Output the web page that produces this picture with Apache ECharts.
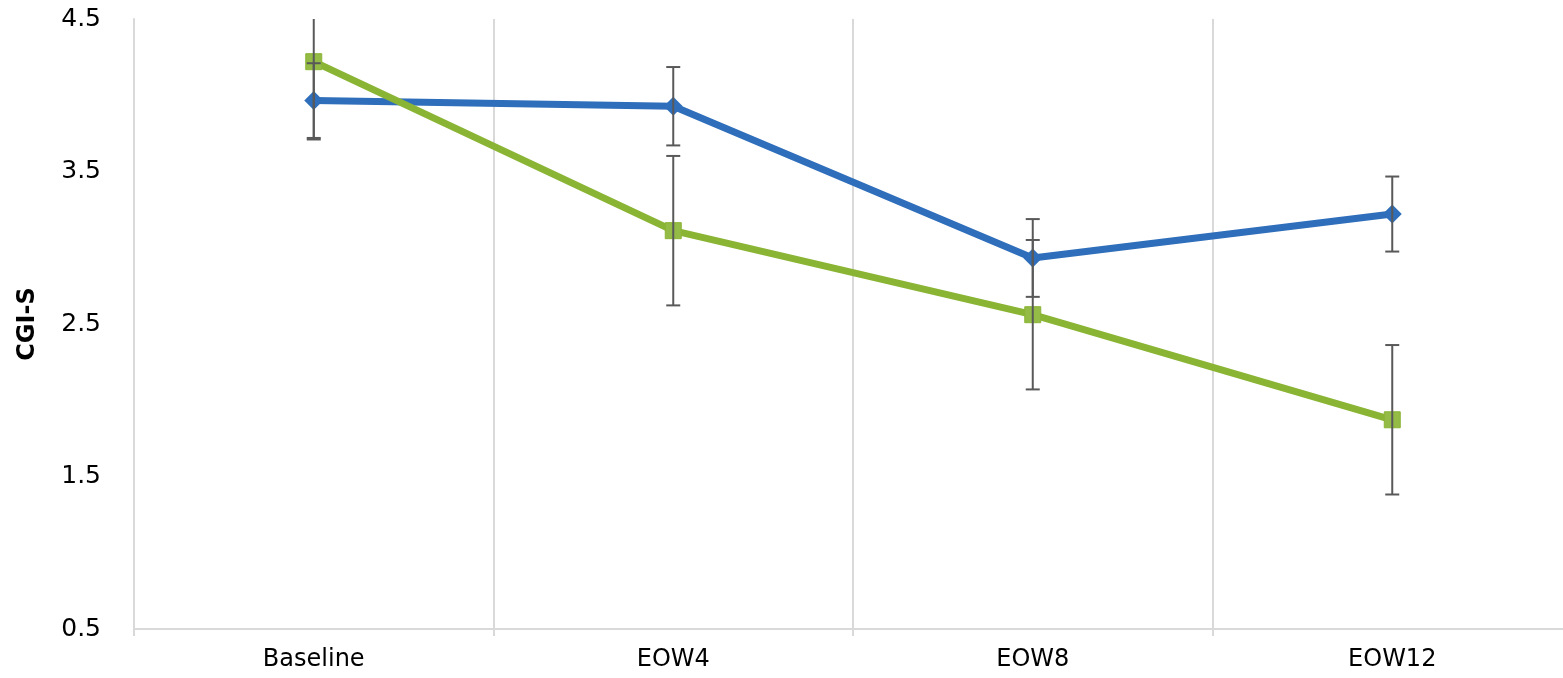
<!DOCTYPE html>
<html>
<head>
<meta charset="utf-8">
<script src="https://cdn.jsdelivr.net/npm/echarts@6/dist/echarts.min.js"></script>
<style>
  html, body { margin: 0; padding: 0; background: #fff; overflow: hidden; }
  /* the plot area runs a little past the right edge of the window */
  #chart { width: 1572px; height: 678px; }
</style>
</head>
<body>
<div id="chart"></div>
<script>
// Visit labels
const categories = ['Baseline', 'EOW4', 'EOW8', 'EOW12'];

// CGI-S means and error half-widths per visit
const blueMean = [3.965, 3.928, 2.933, 3.221];
const blueErr  = [0.245, 0.257, 0.255, 0.246];
const greenMean = [4.22, 3.112, 2.561, 1.872];
const greenErr  = [0.51, 0.49, 0.49, 0.49];

// Value axis ticks
const yTicks = [0.5, 1.5, 2.5, 3.5, 4.5];

const FONT = '"DejaVu Sans", Verdana, sans-serif';
const GRID_COLOR = '#d9d9d9';

function errorData(means, errs) {
  return means.map((m, i) => [i, m, errs[i]]);
}

function renderErrorBar(params, api) {
  const x = api.value(0);
  const m = api.value(1);
  const e = api.value(2);
  const hi = api.coord([x, m + e]);
  const lo = api.coord([x, m - e]);
  const half = 7;
  const style = { stroke: '#595959', lineWidth: 2, fill: null };
  return {
    type: 'group',
    children: [
      { type: 'line', shape: { x1: hi[0], y1: hi[1], x2: lo[0], y2: lo[1] }, style: style },
      { type: 'line', shape: { x1: hi[0] - half, y1: hi[1], x2: hi[0] + half, y2: hi[1] }, style: style },
      { type: 'line', shape: { x1: lo[0] - half, y1: lo[1], x2: lo[0] + half, y2: lo[1] }, style: style }
    ]
  };
}

const chart = echarts.init(document.getElementById('chart'), null, { renderer: 'canvas' });

chart.setOption({
  animation: false,
  backgroundColor: '#ffffff',
  grid: { left: 134, right: 0, top: 19, bottom: 49, containLabel: false },
  xAxis: {
    type: 'category',
    data: categories,
    boundaryGap: true,
    axisLine: { show: true, lineStyle: { color: GRID_COLOR, width: 2 } },
    axisTick: { show: true, length: 7, lineStyle: { color: GRID_COLOR, width: 2 } },
    splitLine: { show: true, lineStyle: { color: GRID_COLOR, width: 2 } },
    axisLabel: { color: '#000', fontFamily: FONT, fontSize: 24, margin: 19 }
  },
  yAxis: {
    type: 'value',
    min: yTicks[0],
    max: yTicks[yTicks.length - 1],
    interval: 1,
    name: 'CGI-S',
    nameLocation: 'middle',
    nameGap: 94,
    nameRotate: 90,
    nameTextStyle: { color: '#000', fontFamily: FONT, fontSize: 24, fontWeight: 'bold' },
    axisLine: { show: true, lineStyle: { color: GRID_COLOR, width: 2 } },
    axisTick: { show: false },
    splitLine: { show: false },
    axisLabel: {
      color: '#000', fontFamily: FONT, fontSize: 25, margin: 33,
      formatter: v => v.toFixed(1)
    }
  },
  series: [
    {
      name: 'Series 1',
      type: 'line',
      data: blueMean,
      z: 2,
      symbol: 'diamond',
      symbolSize: 19,
      lineStyle: { color: '#2f6eba', width: 7 },
      itemStyle: { color: '#2f6eba' }
    },
    {
      name: 'Series 2',
      type: 'line',
      data: greenMean,
      z: 2,
      symbol: 'rect',
      symbolSize: 16,
      lineStyle: { color: '#8ab434', width: 7 },
      itemStyle: { color: '#93bb45', borderColor: '#8ab434', borderWidth: 1 }
    },
    {
      name: 'Series 1 error',
      type: 'custom',
      data: errorData(blueMean, blueErr),
      encode: { x: 0, y: 1 },
      clip: true,
      z: 5,
      renderItem: renderErrorBar
    },
    {
      name: 'Series 2 error',
      type: 'custom',
      data: errorData(greenMean, greenErr),
      encode: { x: 0, y: 1 },
      clip: true,
      z: 5,
      renderItem: renderErrorBar
    }
  ]
});
</script>
</body>
</html>
